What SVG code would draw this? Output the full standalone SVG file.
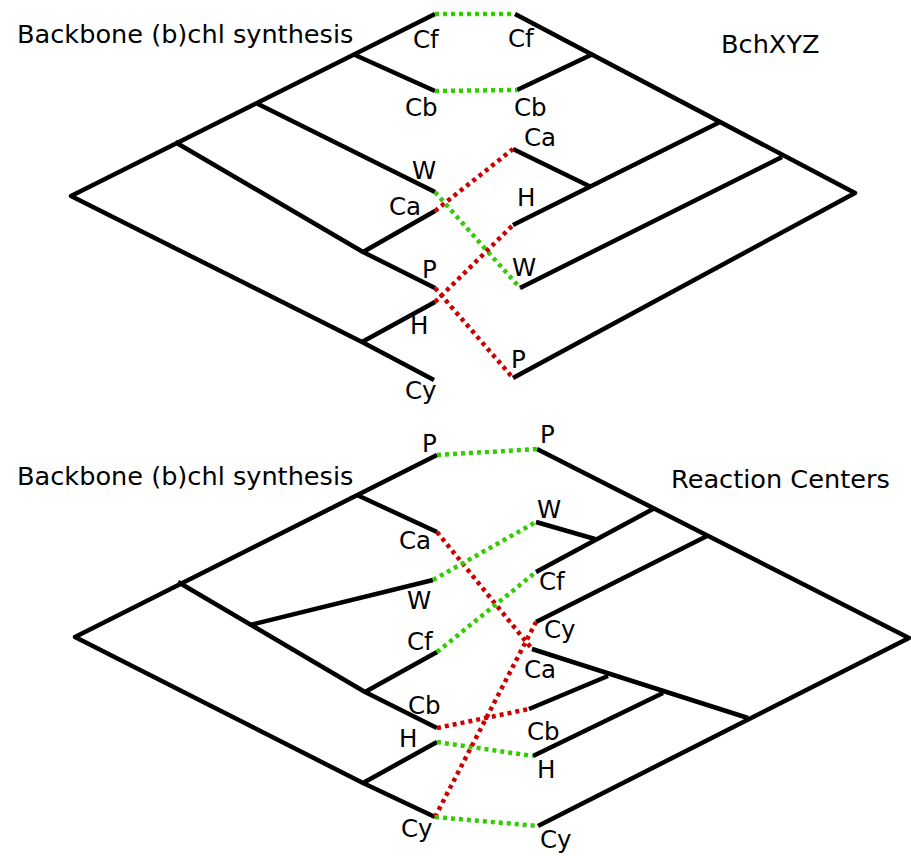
<svg xmlns="http://www.w3.org/2000/svg" width="911" height="856" viewBox="0 0 911 856">
<style>
.t{fill:none;stroke:#000;stroke-width:4.5;stroke-linejoin:round}
.g{fill:none;stroke:#33cc00;stroke-width:4.5;stroke-dasharray:4 4}
.r{fill:none;stroke:#cc0000;stroke-width:4.5;stroke-dasharray:4 4}
text{font-family:"DejaVu Sans",Verdana,sans-serif;font-size:24.5px;fill:#000}
.h{font-size:25.6px}
</style>
<rect width="911" height="856" fill="#fff"/>
<g id="top-left-tree">
<path class="t" d="M435,14 L71,196 L362,342 L434,380 M355,55 L435,91 M256,103 L435,192 M175,142 L363,252 L435,288 M363,252 L435,211 M362,342 L435,302"/>
<text class="h" x="17" y="43">Backbone (b)chl synthesis</text>
</g>
<g id="top-right-tree">
<path class="t" d="M515,14 L855,193 L513,378 M593,54 L517,90 M720,122 L513,225 M589,186 L513,149 M782,157 L520,288"/>
<text class="h" x="721" y="53">BchXYZ</text>
</g>
<g id="top-left-labels">
<text x="413" y="48">Cf</text>
<text x="405" y="116">Cb</text>
<text x="412" y="179">W</text>
<text x="389" y="215">Ca</text>
<text x="422" y="278">P</text>
<text x="410" y="334">H</text>
<text x="405" y="399">Cy</text>
</g>
<g id="top-right-labels">
<text x="508" y="47">Cf</text>
<text x="514" y="116">Cb</text>
<text x="524" y="146">Ca</text>
<text x="517" y="206">H</text>
<text x="512" y="276">W</text>
<text x="511" y="368">P</text>
</g>
<g id="bottom-left-tree">
<path class="t" d="M437,455 L75,637 L363,783 L435,817 M357,495 L437,532 M178,582 L365,692 L437,728 M250,625 L433,580 M365,692 L437,652 M363,783 L437,742"/>
<text class="h" x="17" y="485">Backbone (b)chl synthesis</text>
</g>
<g id="bottom-right-tree">
<path class="t" d="M537,449 L909,638 L538,826 M653,509 L536,572 M595,539 L536,522 M707,536 L536,622 M532,649 L748,718 M608,676 L529,709 M663,693 L533,756"/>
<text class="h" x="671" y="488">Reaction Centers</text>
</g>
<g id="bottom-left-labels">
<text x="422" y="452">P</text>
<text x="399" y="549">Ca</text>
<text x="407" y="609">W</text>
<text x="407" y="650">Cf</text>
<text x="408" y="714">Cb</text>
<text x="399" y="747">H</text>
<text x="401" y="837">Cy</text>
</g>
<g id="bottom-right-labels">
<text x="540" y="443">P</text>
<text x="537" y="518">W</text>
<text x="539" y="590">Cf</text>
<text x="544" y="638">Cy</text>
<text x="524" y="678">Ca</text>
<text x="527" y="740">Cb</text>
<text x="537" y="778">H</text>
<text x="540" y="848">Cy</text>
</g>
<g id="connectors">
<path class="g" d="M435,14 L515,14"/>
<path class="g" d="M435,91 L517,90"/>
<path class="r" d="M435,211 L513,149"/>
<path class="g" d="M435,192 L520,288"/>
<path class="r" d="M435,288 L513,378"/>
<path class="r" d="M435,302 L513,225"/>
<path class="g" d="M437,455 L537,449"/>
<path class="r" d="M437,532 L532,649"/>
<path class="g" d="M433,580 L536,522"/>
<path class="g" d="M437,652 L536,572"/>
<path class="r" d="M437,728 L529,709"/>
<path class="g" d="M437,742 L533,756"/>
<path class="r" d="M435,817 L536,622"/>
<path class="g" d="M435,817 L538,826"/>
</g>
</svg>
